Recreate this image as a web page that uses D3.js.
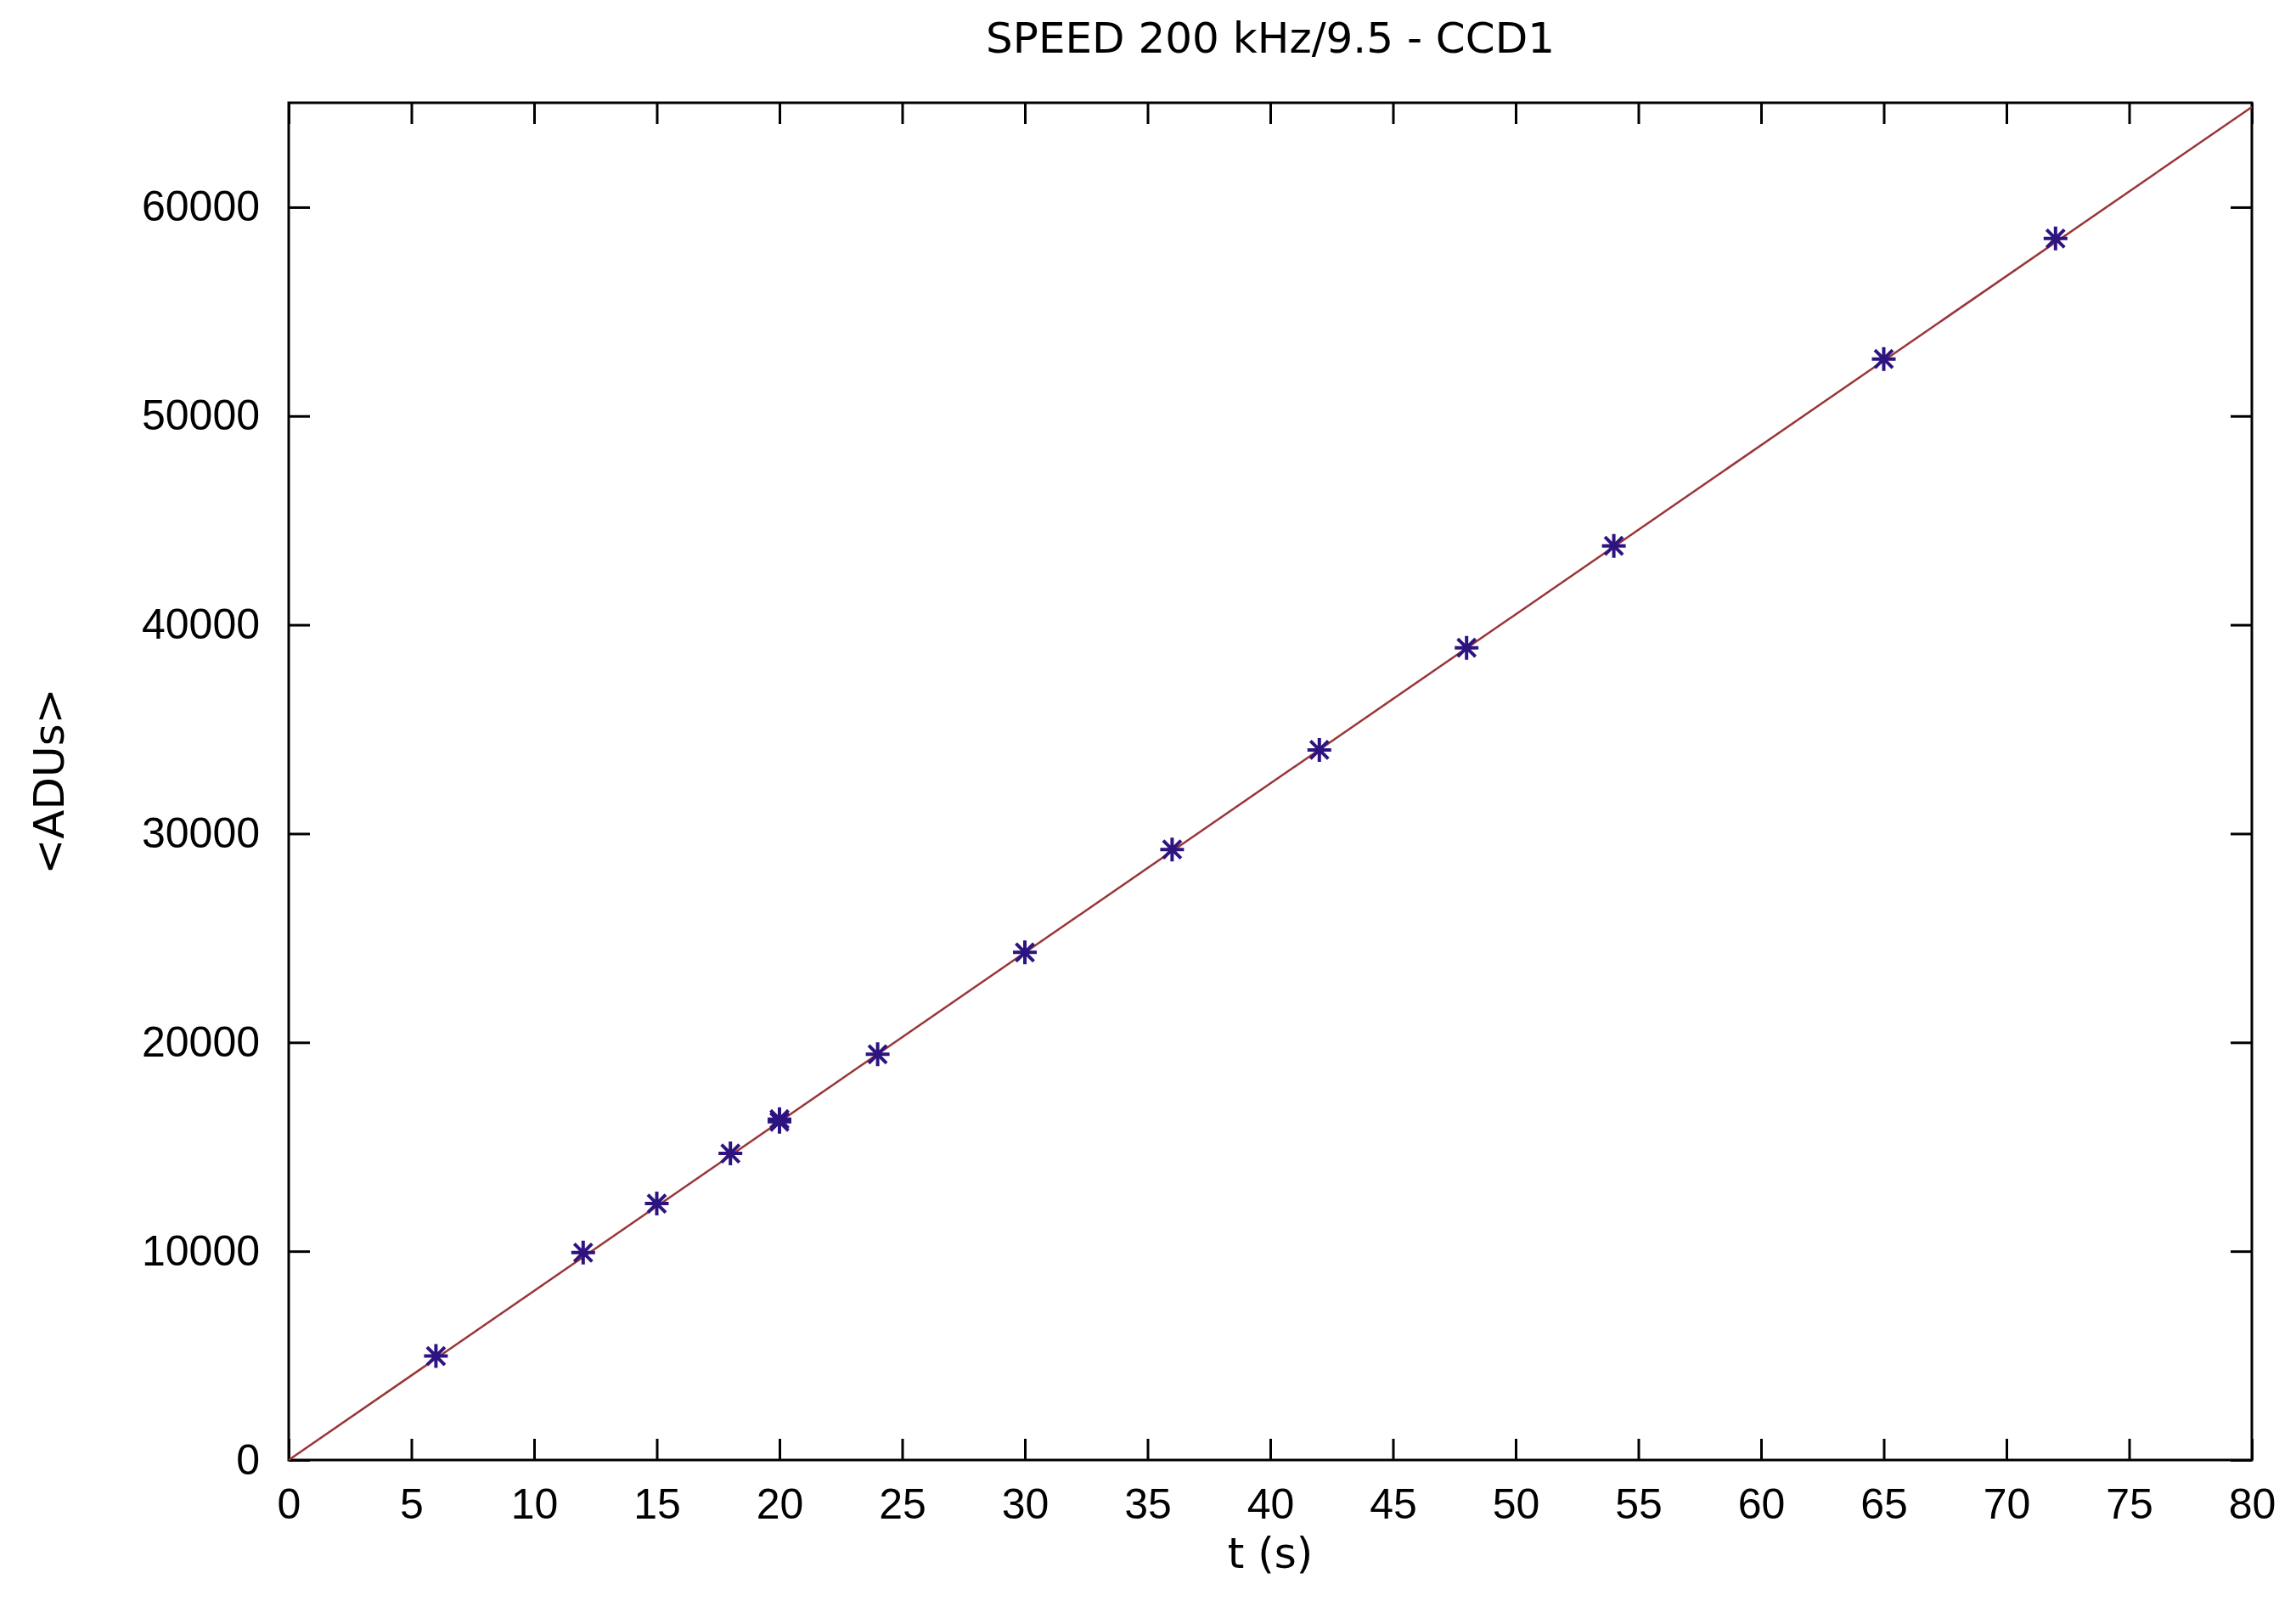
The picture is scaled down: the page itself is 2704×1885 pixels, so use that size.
<!DOCTYPE html>
<html>
<head>
<meta charset="utf-8">
<script src="https://cdn.jsdelivr.net/npm/d3@7.9.0/dist/d3.min.js"></script>
<style>
  body { margin: 0; background: #fff; }
  svg { display: block; font-family: "DejaVu Sans", "Liberation Sans", sans-serif; }
  .axis text { font-size: 50px; fill: #000; }
  .axis line { stroke: #000; stroke-width: 3; }
  .axis .domain { display: none; }
</style>
</head>
<body>
<svg id="chart" width="2704" height="1885"></svg>
<script>
// ====== DATA ======

// exposure times (s) and mean counts
const timeS = [6, 12, 15, 18, 20, 20, 24, 30, 36, 42, 48, 54, 65, 72];
const meanADU = [4980, 9930, 12280, 14680, 16200, 16320, 19430, 24310, 29240, 34010, 38900, 43780, 52730, 58500];

// linear fit drawn as a line through its end points
const fitT = [0, 80];
const fitADU = [0, 64800];

const xTicks = d3.range(0, 81, 5);
const yTicks = d3.range(0, 60001, 10000);

const titleText = 'SPEED 200 kHz/9.5 - CCD1';
const xLabel = 't (s)';
const yLabel = '<ADUs>';

// ====== LAYOUT ======

const margin = { left: 340, right: 52, top: 121, bottom: 166 };
const width = 2704, height = 1885;
const innerW = width - margin.left - margin.right;
const innerH = height - margin.top - margin.bottom;

const svg = d3.select('#chart');
svg.append('rect').attr('width', width).attr('height', height).attr('fill', '#fff');

const g = svg.append('g').attr('transform', `translate(${margin.left},${margin.top})`);

const x = d3.scaleLinear().domain([0, 80]).range([0, innerW]);
const y = d3.scaleLinear().domain([0, 65000]).range([innerH, 0]);

// ====== AXES (ticks point inward on all four sides) ======

const tickLen = 25;

g.append('g')
  .attr('class', 'axis')
  .attr('transform', `translate(0,${innerH})`)
  .call(d3.axisBottom(x).tickValues(xTicks).tickSize(-tickLen).tickSizeOuter(0).tickPadding(33).tickFormat(d3.format('d')));

g.append('g')
  .attr('class', 'axis')
  .call(d3.axisTop(x).tickValues(xTicks).tickSize(-tickLen).tickSizeOuter(0).tickFormat(''));

g.append('g')
  .attr('class', 'axis')
  .call(d3.axisLeft(y).tickValues(yTicks).tickSize(-tickLen).tickSizeOuter(0).tickPadding(34).tickFormat(d3.format('d')));

g.append('g')
  .attr('class', 'axis')
  .attr('transform', `translate(${innerW},0)`)
  .call(d3.axisRight(y).tickValues(yTicks).tickSize(-tickLen).tickSizeOuter(0).tickFormat(''));

// frame
g.append('rect')
  .attr('width', innerW)
  .attr('height', innerH)
  .attr('fill', 'none')
  .attr('stroke', '#000')
  .attr('stroke-width', 3);

// ====== FIT LINE ======

const fitLine = d3.line()
  .x((d, i) => x(fitT[i]))
  .y((d) => y(d));

g.append('path')
  .datum(fitADU)
  .attr('d', fitLine)
  .attr('fill', 'none')
  .attr('stroke', '#9a3636')
  .attr('stroke-width', 2.5);

// ====== POINTS (gnuplot-style asterisks) ======

const s = 14;
const k = s * 0.75;
const star = `M${-s},0H${s}M0,${-s}V${s}M${-k},${-k}L${k},${k}M${-k},${k}L${k},${-k}`;

g.append('g')
  .selectAll('path')
  .data(meanADU)
  .join('path')
  .attr('transform', (d, i) => `translate(${x(timeS[i])},${y(d)})`)
  .attr('d', star)
  .attr('fill', 'none')
  .attr('stroke', '#2d1480')
  .attr('stroke-width', 4);

// ====== LABELS ======

svg.append('text')
  .attr('x', margin.left + innerW / 2)
  .attr('y', 62)
  .attr('text-anchor', 'middle')
  .attr('font-size', 50)
  .text(titleText);

svg.append('text')
  .attr('x', margin.left + innerW / 2)
  .attr('y', 1846)
  .attr('text-anchor', 'middle')
  .attr('font-size', 50)
  .text(xLabel);

svg.append('text')
  .attr('transform', `translate(75,${margin.top + innerH / 2}) rotate(-90)`)
  .attr('text-anchor', 'middle')
  .attr('font-size', 50)
  .text(yLabel);
</script>
</body>
</html>
